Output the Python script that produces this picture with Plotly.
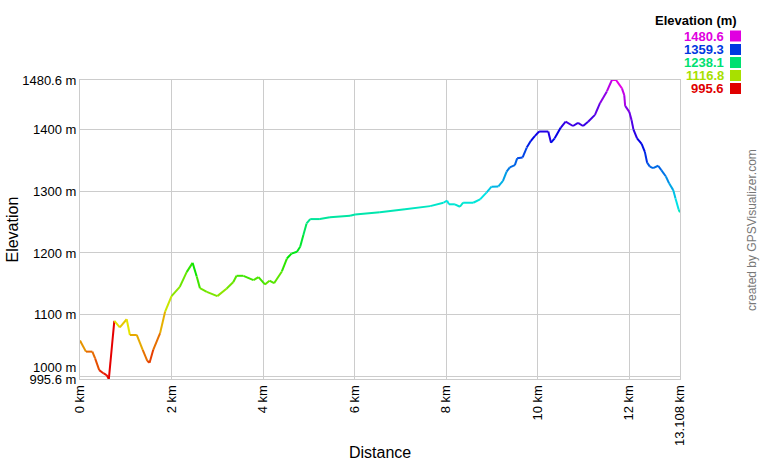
import colorsys
import plotly.graph_objects as go

# Profile data (distance km, elevation m)
dist_km = [0.00, 0.13, 0.27, 0.33, 0.42, 0.51, 0.58, 0.63, 0.75, 0.87, 1.02, 1.09,
           1.24, 1.37, 1.47, 1.52, 1.60, 1.75, 1.86, 2.00, 2.18, 2.33, 2.46, 2.55,
           2.62, 2.77, 3.00, 3.20, 3.35, 3.42, 3.57, 3.79, 3.90, 4.04, 4.14, 4.24,
           4.41, 4.52, 4.62, 4.74, 4.81, 4.88, 4.95, 5.03, 5.24, 5.46, 5.90, 6.01,
           6.55, 7.10, 7.65, 7.94, 8.02, 8.06, 8.19, 8.30, 8.37, 8.59, 8.74, 8.88,
           8.99, 9.14, 9.24, 9.32, 9.39, 9.50, 9.55, 9.67, 9.76, 9.85, 9.94, 10.03,
           10.23, 10.29, 10.37, 10.50, 10.61, 10.77, 10.88, 10.99, 11.10, 11.25,
           11.36, 11.51, 11.62, 11.71, 11.84, 11.89, 11.91, 12.00, 12.05, 12.09,
           12.17, 12.27, 12.34, 12.39, 12.45, 12.52, 12.63, 12.70, 12.80, 12.87,
           12.96, 13.01, 13.08, 13.108]
elev_m = [1058, 1040, 1040, 1029, 1010, 1005, 1002, 995.6, 1090, 1079.5, 1092.5, 1067,
          1067, 1043, 1025, 1022, 1043, 1070, 1105, 1130, 1145, 1169, 1184, 1162,
          1143, 1137, 1130, 1142, 1153, 1163, 1163, 1156, 1161, 1149, 1155, 1151,
          1170, 1191, 1199, 1202, 1210, 1229, 1248, 1255, 1255, 1258, 1260.5, 1262.5,
          1266, 1271, 1276, 1281.5, 1285, 1279, 1279, 1275, 1281.5, 1281.5, 1287, 1298,
          1307.5, 1308, 1317, 1332, 1339, 1342.5, 1353.5, 1355, 1371, 1382, 1390, 1397,
          1397, 1379, 1386, 1403, 1413, 1406, 1411, 1406, 1413, 1424,
          1443, 1462, 1480.6, 1480.6, 1467, 1456, 1438.5, 1429, 1415.5, 1400.5,
          1386, 1377, 1364, 1346.5, 1340, 1337.5, 1341.5, 1334.5, 1324, 1313,
          1302, 1288.5, 1270, 1266]

y_min = 995.6
y_max = 1480.6
x_max = 13.108

y_tick_vals = [995.6, 1000, 1100, 1200, 1300, 1400, 1480.6]
# "1000 m" sits slightly above its gridline in the reference (to clear "995.6 m")
y_tick_text = ["995.6 m", "1000 m<br> ", "1100 m", "1200 m", "1300 m", "1400 m", "1480.6 m"]
x_tick_vals = [0, 2, 4, 6, 8, 10, 12, 13.108]
x_tick_text = ["0 km", "2 km", "4 km", "6 km", "8 km", "10 km", "12 km", "13.108 km"]

legend_vals = [1480.6, 1359.3, 1238.1, 1116.8, 995.6]


def elev_color(e, v=0.88):
    hue = 300.0 * (e - y_min) / (y_max - y_min) / 360.0
    r, g, b = colorsys.hsv_to_rgb(max(0.0, min(hue, 300 / 360)), 1.0, v)
    return "rgb(%d,%d,%d)" % (round(r * 255), round(g * 255), round(b * 255))


fig = go.Figure()
for i in range(len(dist_km) - 1):
    fig.add_trace(go.Scatter(
        x=[dist_km[i], dist_km[i + 1]],
        y=[elev_m[i], elev_m[i + 1]],
        mode="lines",
        line=dict(color=elev_color(elev_m[i], 0.9), width=2),
        showlegend=False,
        hoverinfo="skip",
    ))

font_family = "Liberation Sans, Arial, sans-serif"

fig.update_layout(
    width=760, height=460,
    margin=dict(l=80, r=80, t=80, b=81),
    paper_bgcolor="white", plot_bgcolor="white",
    font=dict(family=font_family, size=13, color="#000"),
    showlegend=False,
    xaxis=dict(
        range=[0, x_max], tickvals=x_tick_vals, ticktext=x_tick_text,
        tickangle=-90, showgrid=True, gridcolor="#cccccc", gridwidth=1,
        showline=True, linecolor="#cccccc", mirror=True, zeroline=False,
        ticks="", tickfont=dict(size=13, color="#000"), fixedrange=True,
    ),
    yaxis=dict(
        range=[y_min, y_max], tickvals=y_tick_vals, ticktext=y_tick_text,
        showgrid=True, gridcolor="#cccccc", gridwidth=1,
        showline=True, linecolor="#cccccc", mirror=True, zeroline=False,
        ticks="", tickfont=dict(size=13, color="#000"), fixedrange=True,
    ),
)

# Axis titles
fig.add_annotation(text="Distance", xref="paper", yref="paper", x=0.5, y=-73 / 299,
                   showarrow=False, font=dict(size=16, color="#000"),
                   xanchor="center", yanchor="middle")
fig.add_annotation(text="Elevation", xref="paper", yref="paper", x=-68 / 600, y=0.5,
                   showarrow=False, textangle=-90, font=dict(size=16, color="#000"),
                   xanchor="center", yanchor="middle")
fig.add_annotation(text="created by GPSVisualizer.com", xref="paper", yref="paper",
                   x=672 / 600, y=(379 - 230) / 299, showarrow=False, textangle=-90,
                   font=dict(size=12, color="#777"), xanchor="center", yanchor="middle")

# Colour legend
fig.add_annotation(text="<b>Elevation (m)</b>", xref="paper", yref="paper",
                   x=(739 - 80) / 600, y=(379 - 21) / 299, showarrow=False,
                   font=dict(size=13, color="#000"), xanchor="right", yanchor="middle")
legend_y_px = [36, 49.5, 62.5, 75.5, 88.5]
for val, ypx in zip(legend_vals, legend_y_px):
    col = elev_color(val, 0.88)
    fig.add_annotation(text="<b>%.1f</b>" % val, xref="paper", yref="paper",
                       x=(726 - 80) / 600, y=(379 - ypx) / 299, showarrow=False,
                       font=dict(size=13, color=col), xanchor="right", yanchor="middle")
    fig.add_shape(type="rect", xref="paper", yref="paper",
                  x0=(730 - 80) / 600, x1=(741 - 80) / 600,
                  y0=(379 - ypx - 5.5) / 299, y1=(379 - ypx + 5.5) / 299,
                  fillcolor=col, line=dict(width=0))

# Remove the browser's default 8px page margin so the figure sits at (0, 0)
fig.write_html("out.html", config={"displayModeBar": False},
               post_script="document.body.style.margin='0';"
               "document.body.style.overflow='hidden';")
